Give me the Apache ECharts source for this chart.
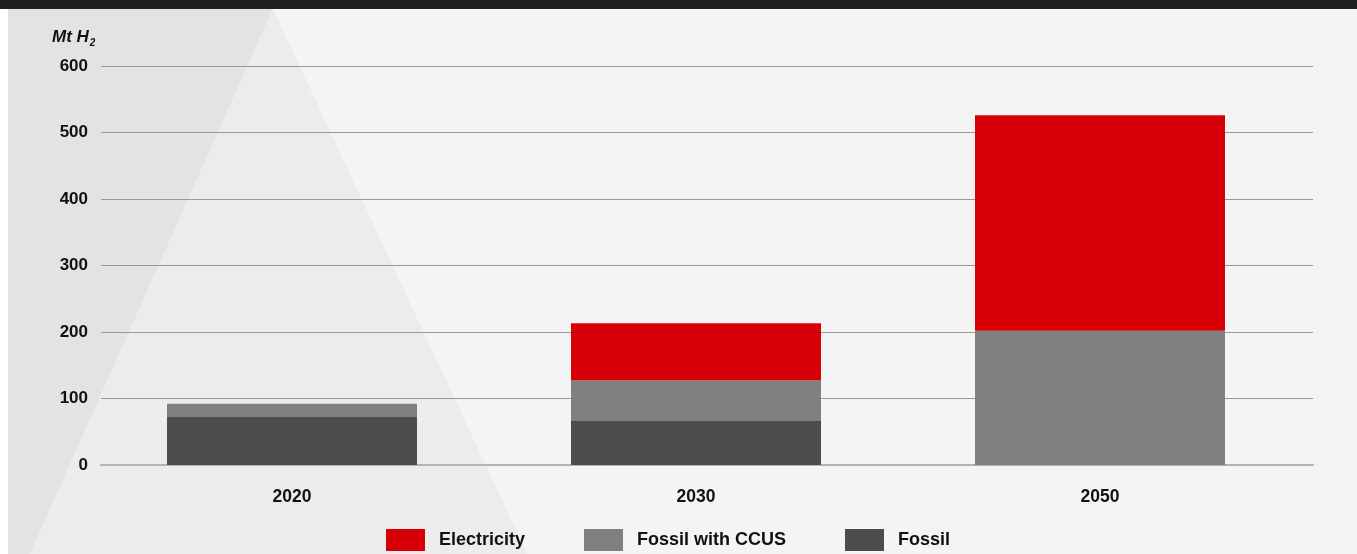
<!DOCTYPE html>
<html>
<head>
<meta charset="utf-8">
<script src="https://cdn.jsdelivr.net/npm/echarts@6/dist/echarts.min.js"></script>
<style>
html,body{margin:0;padding:0;background:#f4f4f4;}
#chart{width:1357px;height:554px;}
</style>
</head>
<body>
<div id="chart"></div>
<script>
// Data
const categories = ['2020', '2030', '2050'];
const fossil = [72, 66, 0];
const fossilCCUS = [20, 61, 202];
const electricity = [0, 86, 324];
const yTicks = [0, 100, 200, 300, 400, 500, 600];
const legendNames = ['Electricity', 'Fossil with CCUS', 'Fossil'];

const FONT = "'Liberation Sans', Arial, Helvetica, sans-serif";
const chart = echarts.init(document.getElementById('chart'), null, {renderer: 'canvas'});

const yMin = yTicks[0], yMax = yTicks[yTicks.length - 1], yStep = yTicks[1] - yTicks[0];

const legendCommon = {
  orient: 'horizontal',
  top: 524,
  itemWidth: 39,
  itemHeight: 22,
  icon: 'rect',
  selectedMode: false,
  textStyle: {fontFamily: FONT, fontWeight: 'bold', fontSize: 18, color: '#111', padding: [2, 0, 0, 9]}
};

const option = {
  backgroundColor: '#f4f4f4',
  animation: false,
  graphic: [
    {type: 'rect', z: -10, shape: {x: 0, y: 0, width: 1357, height: 9}, style: {fill: '#231f20'}},
    {type: 'rect', z: -10, shape: {x: 0, y: 9, width: 8, height: 545}, style: {fill: '#ffffff'}},
    {type: 'polygon', z: -10, shape: {points: [[8, 9], [273, 9], [30, 554], [8, 554]]}, style: {fill: '#e3e3e3'}},
    {type: 'polygon', z: -10, shape: {points: [[273, 9], [30, 554], [527, 554]]}, style: {fill: '#ececec'}},
    {
      type: 'text', left: 52, top: 29, z: 10,
      style: {
        text: '{m|Mt H}{s|2}',
        rich: {
          m: {fontFamily: FONT, fontStyle: 'italic', fontWeight: 'bold', fontSize: 17, fill: '#111'},
          s: {fontFamily: FONT, fontStyle: 'italic', fontWeight: 'bold', fontSize: 10, fill: '#111', padding: [12, 0, 0, 1]}
        }
      }
    }
  ],
  legend: [
    Object.assign({left: 381, data: [legendNames[0]]}, legendCommon),
    Object.assign({left: 579, data: [legendNames[1]]}, legendCommon),
    Object.assign({left: 840, data: [legendNames[2]]}, legendCommon)
  ],
  grid: [
    {left: 101, right: 44, top: 66, bottom: 89},
    {left: 90, right: 55, top: 66, bottom: 89}
  ],
  xAxis: [
    {gridIndex: 0, type: 'category', data: categories, axisLabel: {show: false}, axisTick: {show: false},
     axisLine: {show: true, lineStyle: {color: '#b3b3b3', width: 2}}},
    {gridIndex: 1, type: 'category', data: categories, axisTick: {show: false}, axisLine: {show: false},
     axisLabel: {margin: 23, fontFamily: FONT, fontWeight: 'bold', fontSize: 17.5, color: '#111'}}
  ],
  yAxis: [
    {gridIndex: 0, type: 'value', min: yMin, max: yMax, interval: yStep,
     axisLine: {show: false}, axisTick: {show: false},
     axisLabel: {margin: 13, fontFamily: FONT, fontWeight: 'bold', fontSize: 17, color: '#111'},
     splitLine: {show: true, lineStyle: {color: '#999999', width: 1}}},
    {gridIndex: 1, type: 'value', min: yMin, max: yMax, interval: yStep, show: false, splitLine: {show: false}}
  ],
  series: [
    {name: 'Fossil', type: 'bar', stack: 'h2', xAxisIndex: 1, yAxisIndex: 1, barWidth: 250, data: fossil, itemStyle: {color: '#4d4d4d'}, z: 5},
    {name: 'Fossil with CCUS', type: 'bar', stack: 'h2', xAxisIndex: 1, yAxisIndex: 1, barWidth: 250, data: fossilCCUS, itemStyle: {color: '#808080'}, z: 5},
    {name: 'Electricity', type: 'bar', stack: 'h2', xAxisIndex: 1, yAxisIndex: 1, barWidth: 250, data: electricity, itemStyle: {color: '#d80008'}, z: 5}
  ]
};
chart.setOption(option);
</script>
</body>
</html>
